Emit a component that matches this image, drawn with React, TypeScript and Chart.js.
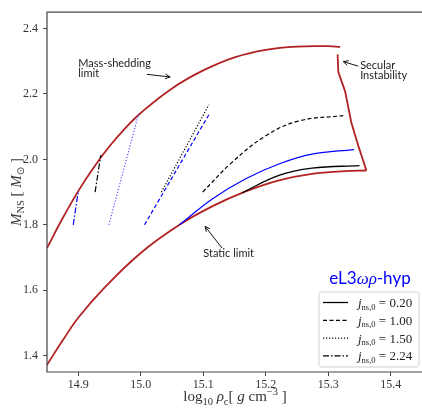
import React, { useEffect, useRef } from "react";
import { Chart, registerables } from "chart.js";

Chart.register(...registerables);

// ---- data ----
const xTicks = [14.9, 15.0, 15.1, 15.2, 15.3, 15.4];
const yTicks = [1.4, 1.6, 1.8, 2.0, 2.2, 2.4];

const massShedX = [14.85, 14.875, 14.9, 14.925, 14.95, 14.975, 15.0, 15.05, 15.1, 15.15, 15.2, 15.25, 15.3, 15.319];
const massShedY = [1.729, 1.82, 1.903, 1.976, 2.04, 2.095, 2.142, 2.217, 2.272, 2.312, 2.335, 2.345, 2.346, 2.344];

const staticX = [14.85, 14.875, 14.9, 14.942, 15.0, 15.062, 15.115, 15.168, 15.221, 15.274, 15.327, 15.361];
const staticY = [1.372, 1.446, 1.516, 1.608, 1.714, 1.8, 1.857, 1.902, 1.936, 1.956, 1.964, 1.966];

const secularX = [15.315, 15.316, 15.327, 15.337, 15.348, 15.361];
const secularY = [2.321, 2.268, 2.208, 2.112, 2.042, 1.966];

const blueSolidX = [15.062, 15.115, 15.168, 15.221, 15.274, 15.341];
const blueSolidY = [1.8, 1.88, 1.941, 1.986, 2.016, 2.03];

const blackSolidX = [15.162, 15.221, 15.274, 15.35];
const blackSolidY = [1.898, 1.951, 1.973, 1.981];

const blackDashedX = [15.099, 15.146, 15.2, 15.252, 15.324];
const blackDashedY = [1.9, 1.991, 2.072, 2.117, 2.134];

const blackDottedX = [15.033, 15.109];
const blackDottedY = [1.9, 2.167];

const blueDashedX = [15.006, 15.11];
const blueDashedY = [1.8, 2.14];

const blueDottedX = [14.949, 14.997];
const blueDottedY = [1.8, 2.142];

const blackDashDotX = [14.927, 14.936];
const blackDashDotY = [1.9, 2.013];

const blueDashDotX = [14.892, 14.9];
const blueDashDotY = [1.8, 1.903];

const legendValues = ["0.20", "1.00", "1.50", "2.24"];
const legendTitle = "eL3ωρ-hyp";

// annotations: text lines, text anchor (data), arrow tail/head (data)
const annotations = [
  { lines: ["Mass-shedding", "limit"], x: 14.9, y: 2.283, tail: [15.01, 2.26], head: [15.047, 2.252] },
  { lines: ["Secular", "Instability"], x: 15.351, y: 2.277, tail: [15.348, 2.285], head: [15.324, 2.299] },
  { lines: ["Static limit"], x: 15.1, y: 1.701, tail: [15.13, 1.729], head: [15.103, 1.795] },
];

const RED = "#b22222";
const BLUE = "#0000ff";
const DASHED = [4, 2.5];
const DOTTED = [1.2, 1.8];
const DASHDOT = [6, 2, 1.5, 2];

const zip = (xs: number[], ys: number[]) => xs.map((x, i) => ({ x, y: ys[i] }));

const SERIF = "'Liberation Serif', 'DejaVu Serif', serif";
const SANS = "Lato, 'Open Sans', sans-serif";

type Run = { t: string; f: string; dy?: number };

function drawRuns(ctx: CanvasRenderingContext2D, runs: Run[], x: number, y: number, align: string) {
  let w = 0;
  for (const r of runs) {
    ctx.font = r.f;
    w += ctx.measureText(r.t).width;
  }
  let cx = align === "center" ? x - w / 2 : align === "right" ? x - w : x;
  ctx.textAlign = "left";
  for (const r of runs) {
    ctx.font = r.f;
    ctx.fillText(r.t, cx, y + (r.dy || 0));
    cx += ctx.measureText(r.t).width;
  }
}

function arrow(ctx: CanvasRenderingContext2D, x1: number, y1: number, x2: number, y2: number) {
  const a = Math.atan2(y2 - y1, x2 - x1);
  const L = 5.5;
  ctx.beginPath();
  ctx.moveTo(x1, y1);
  ctx.lineTo(x2, y2);
  ctx.moveTo(x2 - L * Math.cos(a - 0.45), y2 - L * Math.sin(a - 0.45));
  ctx.lineTo(x2, y2);
  ctx.lineTo(x2 - L * Math.cos(a + 0.45), y2 - L * Math.sin(a + 0.45));
  ctx.stroke();
}

const decorPlugin = {
  id: "decor",
  afterDatasetsDraw(chart: any) {
    const ctx: CanvasRenderingContext2D = chart.ctx;
    const { left, right, top, bottom } = chart.chartArea;
    const xs = chart.scales.x;
    const ys = chart.scales.y;
    ctx.save();

    // frame
    ctx.strokeStyle = "#444";
    ctx.lineWidth = 1.2;
    ctx.setLineDash([]);
    ctx.beginPath();
    ctx.moveTo(right + 2, top);
    ctx.lineTo(left, top);
    ctx.lineTo(left, bottom);
    ctx.lineTo(right + 2, bottom);
    ctx.stroke();

    // annotations
    ctx.fillStyle = "#222";
    ctx.strokeStyle = "#111";
    ctx.lineWidth = 1;
    ctx.textBaseline = "alphabetic";
    for (const a of annotations) {
      const px = xs.getPixelForValue(a.x);
      const py = ys.getPixelForValue(a.y);
      a.lines.forEach((ln, i) => {
        drawRuns(ctx, [{ t: ln, f: `11px ${SANS}` }], px, py + i * 10.5, "left");
      });
      arrow(
        ctx,
        xs.getPixelForValue(a.tail[0]),
        ys.getPixelForValue(a.tail[1]),
        xs.getPixelForValue(a.head[0]),
        ys.getPixelForValue(a.head[1])
      );
    }

    // legend box
    const bx = right - 103;
    const by = bottom - 80;
    const bw = 100;
    const bh = 75;
    ctx.beginPath();
    const r = 2.5;
    ctx.moveTo(bx + r, by);
    ctx.arcTo(bx + bw, by, bx + bw, by + bh, r);
    ctx.arcTo(bx + bw, by + bh, bx, by + bh, r);
    ctx.arcTo(bx, by + bh, bx, by, r);
    ctx.arcTo(bx, by, bx + bw, by, r);
    ctx.closePath();
    ctx.fillStyle = "rgba(255,255,255,0.85)";
    ctx.fill();
    ctx.strokeStyle = "#d0d0d0";
    ctx.lineWidth = 1;
    ctx.stroke();

    const dashes = [[], DASHED, DOTTED, DASHDOT];
    legendValues.forEach((v, i) => {
      const ry = by + 10.5 + i * 17.8;
      ctx.strokeStyle = "#000";
      ctx.lineWidth = 1.3;
      ctx.setLineDash(dashes[i]);
      ctx.beginPath();
      ctx.moveTo(bx + 4, ry);
      ctx.lineTo(bx + 29, ry);
      ctx.stroke();
      ctx.setLineDash([]);
      ctx.fillStyle = "#222";
      drawRuns(
        ctx,
        [
          { t: "j", f: `italic 13px ${SERIF}` },
          { t: "ns,0", f: `8.5px ${SERIF}`, dy: 2.5 },
          { t: " = " + v, f: `13px ${SERIF}` },
        ],
        bx + 39,
        ry + 4.5,
        "left"
      );
    });

    // legend title
    ctx.fillStyle = BLUE;
    drawRuns(
      ctx,
      [
        { t: legendTitle.slice(0, 3), f: `17px ${SANS}` },
        { t: legendTitle.slice(3, 5), f: `italic 17px ${SERIF}` },
        { t: legendTitle.slice(5), f: `17px ${SANS}` },
      ],
      bx + bw / 2 + 1,
      by - 8,
      "center"
    );

    // x title
    ctx.fillStyle = "#333";
    drawRuns(
      ctx,
      [
        { t: "log", f: `15px ${SERIF}` },
        { t: "10", f: `10.5px ${SERIF}`, dy: 3.5 },
        { t: " ρ", f: `italic 15px ${SERIF}` },
        { t: "c", f: `10.5px ${SERIF}`, dy: 3.5 },
        { t: "[ ", f: `15px ${SERIF}` },
        { t: "g", f: `italic 15px ${SERIF}` },
        { t: " cm", f: `15px ${SERIF}` },
        { t: "−3", f: `10.5px ${SERIF}`, dy: -6 },
        { t: " ]", f: `15px ${SERIF}` },
      ],
      (left + right) / 2 + 0.5,
      401,
      "center"
    );

    // y title
    ctx.save();
    ctx.translate(21, (top + bottom) / 2);
    ctx.rotate(-Math.PI / 2);
    drawRuns(
      ctx,
      [
        { t: "M", f: `italic 15px ${SERIF}` },
        { t: "NS", f: `10.5px ${SERIF}`, dy: 3 },
        { t: " [ ", f: `15px ${SERIF}` },
        { t: "M", f: `italic 15px ${SERIF}` },
        { t: "⊙", f: `10px 'DejaVu Sans', sans-serif`, dy: 3 },
        { t: " ]", f: `15px ${SERIF}` },
      ],
      0,
      0,
      "center"
    );
    ctx.restore();

    ctx.restore();
  },
};

export default function App() {
  const ref = useRef<HTMLCanvasElement | null>(null);

  useEffect(() => {
    if (!ref.current) return;
    const line = (xs: number[], ys: number[], color: string, dash: number[], width: number, curved = true) => ({
      data: zip(xs, ys),
      borderColor: color,
      backgroundColor: color,
      borderWidth: width,
      borderDash: dash,
      showLine: true,
      pointRadius: 0,
      fill: false,
      tension: curved ? 0.4 : 0,
    });
    const chart = new Chart(ref.current, {
      type: "scatter",
      data: {
        datasets: [
          line(blackSolidX, blackSolidY, "#000", [], 1.3),
          line(blueSolidX, blueSolidY, BLUE, [], 1.2),
          line(blackDashedX, blackDashedY, "#000", DASHED, 1.2),
          line(blackDottedX, blackDottedY, "#000", DOTTED, 1.2, false),
          line(blueDashedX, blueDashedY, BLUE, DASHED, 1.2, false),
          line(blueDottedX, blueDottedY, "#5555ff", DOTTED, 1.2, false),
          line(blackDashDotX, blackDashDotY, "#000", DASHDOT, 1.2, false),
          line(blueDashDotX, blueDashDotY, BLUE, DASHDOT, 1.2, false),
          line(massShedX, massShedY, RED, [], 1.8),
          line(staticX, staticY, RED, [], 1.8),
          line(secularX, secularY, RED, [], 1.8, false),
        ] as any,
      },
      options: {
        animation: false,
        responsive: false,
        layout: { padding: { top: 7.5, right: 0, left: 0, bottom: 0 } },
        plugins: { legend: { display: false }, tooltip: { enabled: false } },
        scales: {
          x: {
            type: "linear",
            min: 14.85,
            max: 15.45,
            afterFit: (s: any) => {
              s.height = 36;
            },
            afterBuildTicks: (s: any) => {
              s.ticks = xTicks.map((v) => ({ value: v }));
            },
            border: { display: false },
            grid: { drawOnChartArea: false, drawTicks: true, tickLength: 4, color: "#444", lineWidth: 1 },
            ticks: {
              padding: 2,
              color: "#333",
              font: { family: SERIF, size: 12 },
              callback: (v: any) => Number(v).toFixed(1),
              maxRotation: 0,
              autoSkip: false,
            },
          },
          y: {
            type: "linear",
            min: 1.35,
            max: 2.45,
            afterFit: (s: any) => {
              s.width = 47;
            },
            afterBuildTicks: (s: any) => {
              s.ticks = yTicks.map((v) => ({ value: v }));
            },
            border: { display: false },
            grid: { drawOnChartArea: false, drawTicks: true, tickLength: 4, color: "#444", lineWidth: 1 },
            ticks: {
              padding: 5,
              color: "#333",
              font: { family: SERIF, size: 12 },
              callback: (v: any) => Number(v).toFixed(1),
              autoSkip: false,
            },
          },
        },
      } as any,
      plugins: [decorPlugin],
    });
    return () => chart.destroy();
  }, []);

  return (
    <div style={{ position: "absolute", left: 0, top: 0, width: 422, height: 408 }}>
      <canvas ref={ref} width={422} height={408} style={{ display: "block" }} />
    </div>
  );
}
